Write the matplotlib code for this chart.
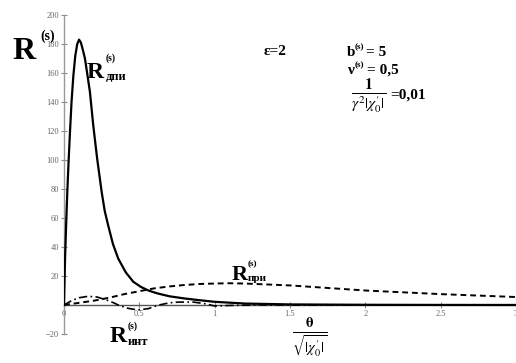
import numpy as np
import matplotlib
matplotlib.use("Agg")
import matplotlib.pyplot as plt

plt.rcParams["font.family"] = ["Liberation Serif", "DejaVu Serif"]
plt.rcParams["mathtext.fontset"] = "stix"

# R_dpi (solid)
theta_dpi = [0, 0.007, 0.015, 0.022, 0.03, 0.04, 0.05, 0.062, 0.075, 0.088,
             0.1, 0.112, 0.125, 0.139, 0.155, 0.172, 0.194, 0.22, 0.25, 0.27,
             0.293, 0.325, 0.36, 0.41, 0.46, 0.51, 0.56, 0.62, 0.7, 0.8, 0.9,
             1.0, 1.2, 1.5, 2.0, 2.5, 3.0]
r_dpi = [0, 32, 58, 78, 98, 120, 140, 158, 172, 180,
         183, 181, 176, 170, 159, 147, 124, 101, 78, 65,
         55, 42, 32, 22.5, 16, 12.5, 10, 8, 6, 4.5, 3.3,
         2.2, 1.0, 0.4, 0.15, 0.05, 0.02]

# R_pri (dashed)
theta_pri = [0, 0.1, 0.2, 0.3, 0.4, 0.5, 0.6, 0.7, 0.8, 0.9, 1.0, 1.1, 1.2,
             1.5, 2.0, 2.5, 3.0]
r_pri = [0, 1.5, 3, 5, 7.5, 9.5, 11.5, 12.8, 13.8, 14.5, 14.8, 15, 14.8,
         13.5, 10, 7.5, 5.5]

# R_int (dash-dot)
theta_int = [0, 0.05, 0.1, 0.16, 0.22, 0.28, 0.33, 0.36, 0.42, 0.49, 0.56,
             0.63, 0.7, 0.76, 0.86, 0.94, 1.0, 1.1, 1.3, 1.6, 2.0, 3.0]
r_int = [0, 3, 5, 6, 5.5, 3.5, 1.5, 0, -2.2, -3.4, -2.5,
         0, 1.5, 2, 2, 0.8, -0.7, -0.3, 0, 0, 0, 0]

x_ticks = [0, 0.5, 1, 1.5, 2, 2.5, 3]
x_tick_labels = ["0", "0.5", "1", "1.5", "2", "2.5", "3"]
y_ticks = [-20, 20, 40, 60, 80, 100, 120, 140, 160, 180, 200]

W, H = 516, 363
fig = plt.figure(figsize=(W / 100, H / 100), dpi=100)
ax = fig.add_axes([64 / W, 1 - 334 / H, 452 / W, 319 / H])


def px(x, y):
    return x / W, 1 - y / H


ax.plot(theta_dpi, r_dpi, color="black", lw=1.6, zorder=3)
ax.plot(theta_pri, r_pri, color="black", lw=1.4, ls=(0, (3, 2)), zorder=3)
ax.plot(theta_int, r_int, color="black", lw=1.2, ls=(0, (5, 2, 1, 2)), zorder=3)

ax.set_xlim(0, 3)
ax.set_ylim(-20, 200)
for s in ["top", "right"]:
    ax.spines[s].set_visible(False)
ax.spines["left"].set_position(("data", 0))
ax.spines["bottom"].set_position(("data", 0))
ax.spines["left"].set_color("#999999")
ax.spines["bottom"].set_color("#555555")
ax.spines["left"].set_linewidth(1.0)
ax.spines["bottom"].set_linewidth(1.0)

ax.set_xticks(x_ticks)
ax.set_xticklabels(x_tick_labels)
ax.set_yticks(y_ticks)
ax.tick_params(direction="inout", length=5, width=0.8, colors="#888888",
               labelsize=6, pad=1)
for lab in ax.get_xticklabels() + ax.get_yticklabels():
    lab.set_color("#666666")

# labels
fig.text(*px(12, 59), "R", fontsize=23, fontweight="bold")
fig.text(*px(40, 40), "(s)", fontsize=10, fontweight="bold")

fig.text(*px(87, 78), "R", fontsize=17, fontweight="bold")
fig.text(*px(106, 61), "(s)", fontsize=7, fontweight="bold")
fig.text(*px(106, 80), "дпи", fontsize=9, fontweight="bold")

fig.text(*px(264, 55), "ε=2", fontsize=11, fontweight="bold")

fig.text(*px(347, 56), "b", fontsize=11, fontweight="bold")
fig.text(*px(355, 49), "(s)", fontsize=6.5, fontweight="bold")
fig.text(*px(366, 56), "= 5", fontsize=11, fontweight="bold")
fig.text(*px(347, 74), "ν", fontsize=11, fontweight="bold")
fig.text(*px(355, 67), "(s)", fontsize=6.5, fontweight="bold")
fig.text(*px(367, 74), "= 0,5", fontsize=11, fontweight="bold")
fig.text(*px(369, 96), r"$\frac{\mathbf{1}}{\gamma^2|\chi^{\prime}_{\mathit{0}}|}$",
         fontsize=16, ha="center", va="center")
fig.text(*px(390, 99), "=0,01", fontsize=11, fontweight="bold")

fig.text(*px(232, 280), "R", fontsize=16, fontweight="bold")
fig.text(*px(248, 266), "(s)", fontsize=6.5, fontweight="bold")
fig.text(*px(248, 281), "при", fontsize=8, fontweight="bold")

fig.text(*px(110, 342), "R", fontsize=17, fontweight="bold")
fig.text(*px(128, 329), "(s)", fontsize=7, fontweight="bold")
fig.text(*px(128, 345), "инт", fontsize=9, fontweight="bold")

fig.text(*px(310, 338), r"$\frac{\mathbf{\theta}}{\sqrt{|\chi^{\prime}_{\mathit{0}}|}}$",
         fontsize=15, ha="center", va="center")

fig.savefig("out.png", dpi=100)
